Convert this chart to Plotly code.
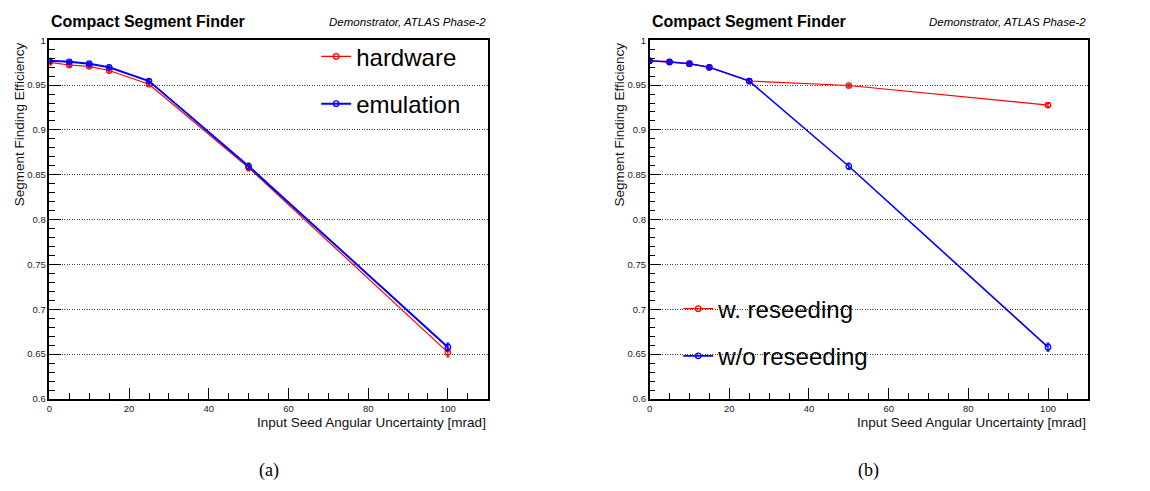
import plotly.graph_objects as go

# ---- data ----
seed_unc = [0, 5, 10, 15, 25, 50, 100]

hardware = [0.9752, 0.9724, 0.9709, 0.9662, 0.9509, 0.8579, 0.6520]
hardware_err = [0.0015, 0.0015, 0.0015, 0.0015, 0.0015, 0.0035, 0.0050]
emulation = [0.9771, 0.9760, 0.9738, 0.9698, 0.9545, 0.8595, 0.6578]
emulation_err = [0.0015, 0.0015, 0.0015, 0.0015, 0.0015, 0.0035, 0.0045]

w_reseed = [0.9770, 0.9755, 0.9738, 0.9698, 0.9545, 0.9495, 0.9277]
w_reseed_err = [0.0015, 0.0015, 0.0015, 0.0015, 0.0015, 0.0015, 0.0020]
wo_reseed = [0.9771, 0.9760, 0.9738, 0.9698, 0.9545, 0.8595, 0.6578]
wo_reseed_err = [0.0015, 0.0015, 0.0015, 0.0015, 0.0015, 0.0035, 0.0045]

y_tickvals = [0.6, 0.65, 0.7, 0.75, 0.8, 0.85, 0.9, 0.95, 1.0]
y_ticktext = ["0.6", "0.65", "0.7", "0.75", "0.8", "0.85", "0.9", "0.95", "1"]
x_tickvals = [0, 20, 40, 60, 80, 100]
x_ticktext = ["0", "20", "40", "60", "80", "100"]

title_text = "Compact Segment Finder"
sub_text = "Demonstrator, ATLAS Phase-2"
x_title = "Input Seed Angular Uncertainty [mrad]"
y_title = "Segment Finding Efficiency"

W, H = 1150, 491
SANS = "Liberation Sans, Arial, sans-serif"
SERIF = "Liberation Serif, Times New Roman, serif"

RED = "#ff0000"
BLUE = "#0000ff"

# panel geometry (pixels)
panels = [
    dict(x0=46.5, x1=486.0, cap="(a)"),
    dict(x0=648.3, x1=1087.7, cap="(b)"),
]
Y0, Y1 = 35.0, 402.0

fig = go.Figure()


def trace(x, y, err, name, color, width, xa, ya, legend, group):
    return go.Scatter(
        x=x, y=y, name=name, mode="lines+markers",
        line=dict(color=color, width=width),
        marker=dict(symbol="circle-open", size=5.5, color=color, line=dict(width=1.2, color=color)),
        error_y=dict(type="data", array=err, visible=True, color=color, thickness=1.2, width=1.5),
        xaxis=xa, yaxis=ya, legend=legend, legendgroup=group,
    )


fig.add_trace(trace(seed_unc, hardware, hardware_err, "hardware", RED, 1.2, "x", "y", "legend", "a1"))
fig.add_trace(trace(seed_unc, emulation, emulation_err, "emulation", BLUE, 2.0, "x", "y", "legend", "a2"))
fig.add_trace(trace(seed_unc, w_reseed, w_reseed_err, "w. reseeding", RED, 1.2, "x2", "y2", "legend2", "b1"))
fig.add_trace(trace(seed_unc, wo_reseed, wo_reseed_err, "w/o reseeding", BLUE, 1.6, "x2", "y2", "legend2", "b2"))


def xaxis(p, anchor):
    return dict(
        domain=[p["x0"] / W, p["x1"] / W], anchor=anchor, range=[0, 110],
        tickvals=x_tickvals, ticktext=x_ticktext, ticks="inside", ticklen=11,
        tickwidth=1.2, tickcolor="black",
        minor=dict(dtick=5, tick0=0, ticks="inside", ticklen=6, tickwidth=1.2,
                   tickcolor="black", showgrid=False),
        showgrid=False, zeroline=False, showline=True, linecolor="black",
        linewidth=1.5, mirror=True,
        tickfont=dict(family=SANS, size=9.5, color="#222"),
        fixedrange=True,
    )


def yaxis(anchor):
    return dict(
        domain=[1 - Y1 / H, 1 - Y0 / H], anchor=anchor, range=[0.6, 1.0],
        tickvals=y_tickvals, ticktext=y_ticktext, ticks="inside", ticklen=12,
        tickwidth=1.2, tickcolor="black",
        minor=dict(dtick=0.01, tick0=0.6, ticks="inside", ticklen=6, tickwidth=1.2,
                   tickcolor="black", showgrid=False),
        showgrid=True, gridcolor="#444", griddash="1px,1.5px", gridwidth=1,
        zeroline=False, showline=True, linecolor="black", linewidth=1.5, mirror=True,
        tickfont=dict(family=SANS, size=9.5, color="#222"),
        fixedrange=True,
    )


annotations = []
for p in panels:
    annotations.append(dict(
        x=p["x0"] / W, y=1 - 16 / H, xref="paper", yref="paper", xanchor="left",
        yanchor="middle", text="<b>" + title_text + "</b>", showarrow=False,
        font=dict(family=SANS, size=16, color="black")))
    annotations.append(dict(
        x=p["x1"] / W, y=1 - 16.5 / H, xref="paper", yref="paper", xanchor="right",
        yanchor="middle", text="<i>" + sub_text + "</i>", showarrow=False,
        font=dict(family=SANS, size=11.5, color="black")))
    annotations.append(dict(
        x=p["x1"] / W, y=1 - 426 / H, xref="paper", yref="paper", xanchor="right",
        yanchor="middle", text=x_title, showarrow=False,
        font=dict(family=SANS, size=13.5, color="#111")))
    annotations.append(dict(
        x=(p["x0"] - 30.5) / W, y=1 - Y0 / H, xref="paper", yref="paper", xanchor="center",
        yanchor="top", text=y_title, textangle=-90, showarrow=False,
        font=dict(family=SANS, size=13.5, color="#111")))
    annotations.append(dict(
        x=(p["x0"] + p["x1"]) / 2 / W, y=1 - 475 / H, xref="paper", yref="paper",
        xanchor="center", yanchor="middle", text=p["cap"], showarrow=False,
        font=dict(family=SERIF, size=18, color="black")))

legend_common = dict(
    xanchor="left", yanchor="top", bgcolor="rgba(0,0,0,0)", borderwidth=0,
    font=dict(family=SANS, size=24, color="black"), traceorder="grouped",
    tracegroupgap=13, itemwidth=30,
)

fig.update_layout(
    width=W, height=H, autosize=False,
    margin=dict(l=0, r=0, t=0, b=0),
    paper_bgcolor="white", plot_bgcolor="white",
    xaxis=xaxis(panels[0], "y"), yaxis=yaxis("x"),
    xaxis2=xaxis(panels[1], "y2"), yaxis2=yaxis("x2"),
    legend=dict(x=314 / W, y=1 - 29 / H, **legend_common),
    legend2=dict(x=677 / W, y=1 - 287 / H, **legend_common),
    annotations=annotations,
    showlegend=True,
)

fig.write_html("out.html")
